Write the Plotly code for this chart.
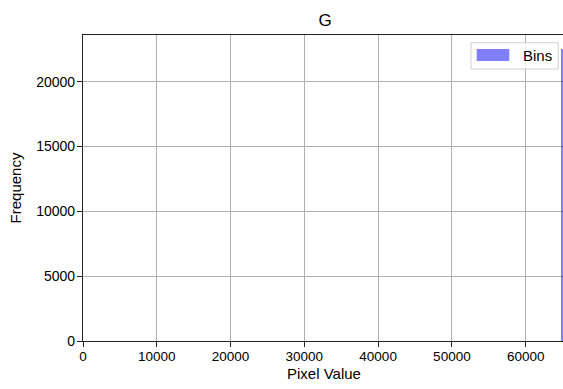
import plotly.graph_objects as go

# Histogram data
bin_left = [64750]
bin_right = [65535]
counts = [22525]
series_name = "Bins"
title_text = "G"
x_label = "Pixel Value"
y_label = "Frequency"
x_ticks = [0, 10000, 20000, 30000, 40000, 50000, 60000]
y_ticks = [0, 5000, 10000, 15000, 20000]

centers = [(a + b) / 2 for a, b in zip(bin_left, bin_right)]
widths = [b - a for a, b in zip(bin_left, bin_right)]

FONT = "Arial, Liberation Sans, sans-serif"
L, R, T, B = 83, 0, 35, 48
W, H = 563, 389
PW = W - L - R
PH = H - T - B

def px(x):
    return (x - L) / PW

def py(y):
    return (H - B - y) / PH

fig = go.Figure()
fig.add_trace(go.Bar(
    x=centers, y=counts, width=widths, name=series_name,
    marker=dict(color="rgba(0,0,255,0.5)", line=dict(width=0)),
    showlegend=False,
))

fig.update_layout(
    width=W, height=H,
    margin=dict(l=L, r=R, t=T, b=B, pad=0),
    paper_bgcolor="white", plot_bgcolor="white",
    font=dict(family=FONT, size=14, color="black"),
    bargap=0,
    title=dict(text=title_text, x=px(325), xanchor="center", xref="paper",
               y=1 - 20 / H, yanchor="middle", yref="container",
               font=dict(size=17, family=FONT, color="black")),
    xaxis=dict(
        range=[0, 65060], tickvals=x_ticks, ticktext=[str(v) for v in x_ticks],
        showgrid=True, gridcolor="#b0b0b0", gridwidth=1,
        showline=True, linecolor="#222222", linewidth=1.2, mirror=True,
        ticks="outside", ticklen=5, tickcolor="#222222", tickwidth=1,
        tickfont=dict(size=13.5, family=FONT, color="black"),
        ticklabelstandoff=-2,
        zeroline=False,
    ),
    yaxis=dict(
        range=[0, 23600], tickvals=y_ticks, ticktext=[str(v) for v in y_ticks],
        showgrid=True, gridcolor="#b0b0b0", gridwidth=1,
        showline=True, linecolor="#222222", linewidth=1.2, mirror=False,
        ticks="outside", ticklen=5, tickcolor="#222222", tickwidth=1,
        tickfont=dict(size=14, family=FONT, color="black"),
        ticklabelstandoff=-1,
        zeroline=False,
        title=dict(text=y_label, font=dict(size=15, family=FONT, color="black"), standoff=10),
    ),
)

# x-axis title placed like the reference
fig.add_annotation(text=x_label, xref="paper", yref="paper",
                   x=px(324), y=py(373), xanchor="center", yanchor="middle",
                   showarrow=False, font=dict(size=15, family=FONT, color="black"))

# Legend drawn in matplotlib style
fig.add_shape(type="rect", xref="paper", yref="paper",
              x0=px(471), x1=px(558.3), y0=py(69), y1=py(42.7),
              line=dict(color="#d0d0d0", width=1), fillcolor="rgba(255,255,255,0.8)",
              layer="above")
fig.add_shape(type="rect", xref="paper", yref="paper",
              x0=px(476.7), x1=px(509.3), y0=py(61), y1=py(49),
              line=dict(width=0), fillcolor="rgba(0,0,255,0.5)", layer="above")
fig.add_annotation(text=series_name, xref="paper", yref="paper",
                   x=px(521), y=py(55.5), xanchor="left", yanchor="middle",
                   showarrow=False, font=dict(size=15, family=FONT, color="black"))

fig.write_html("out.html")
